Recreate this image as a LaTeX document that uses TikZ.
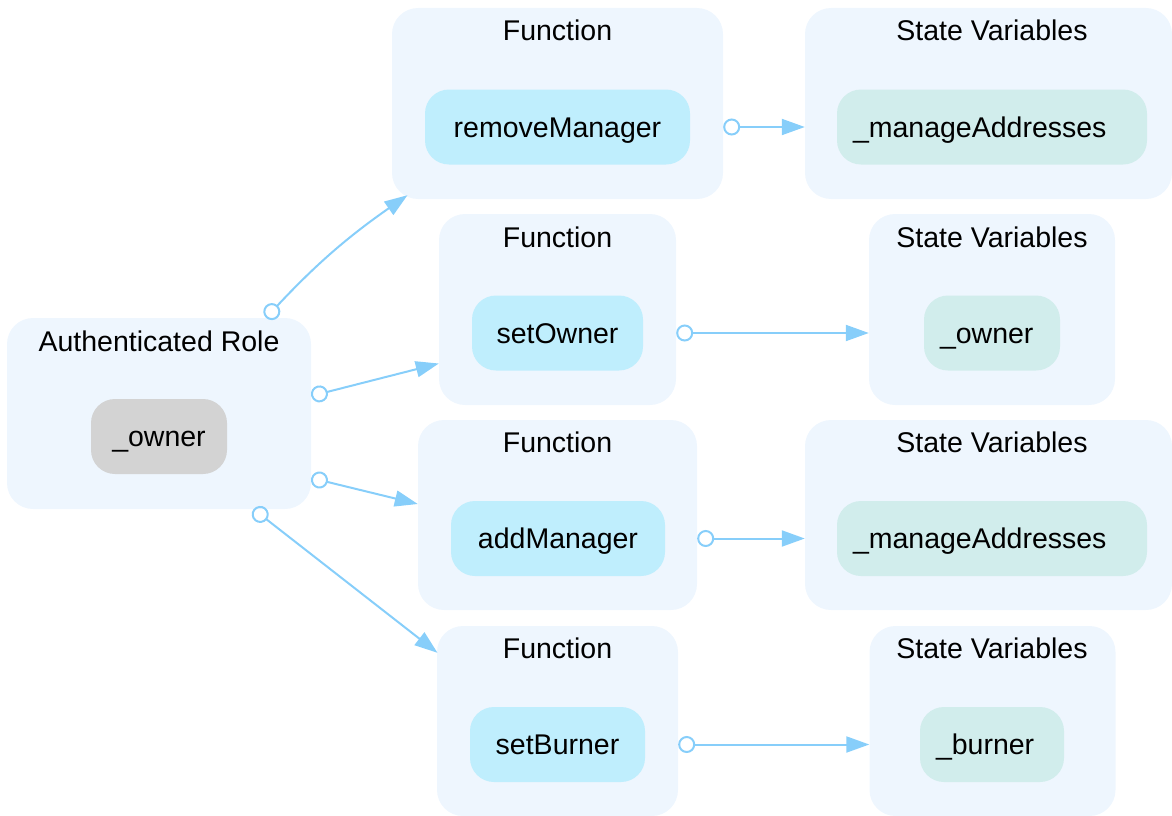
\documentclass[tikz,border=0pt]{standalone}
\usepackage{fontspec}
\setmainfont{Liberation Sans}
\usetikzlibrary{arrows.meta,positioning}

\definecolor{clusterbg}{HTML}{EEF6FE}
\definecolor{fnfill}{HTML}{BFEEFD}
\definecolor{svfill}{HTML}{D1EDEC}
\definecolor{rolefill}{HTML}{D3D3D3}
\definecolor{edgecol}{HTML}{87CEFA}

\begin{document}
\begin{tikzpicture}[x=1pt,y=-1pt,
  font=\fontsize{28.5}{32}\selectfont,
  cluster/.style={draw=none, fill=clusterbg, rounded corners=26pt,
    minimum height=191pt, inner sep=0pt},
  title/.style={anchor=base, inner sep=0pt},
  item/.style={draw=none, rounded corners=24pt, minimum height=75pt,
    inner sep=0pt, text height=20pt, text depth=0pt},
  fn/.style={item, fill=fnfill, minimum width=#1},
  sv/.style={item, fill=svfill, inner xsep=16pt, text width=#1-32pt, align=left},
  role/.style={item, fill=rolefill, minimum width=#1},
  link/.style={draw=edgecol, line width=2pt,
    {Circle[open, length=17pt, width=17pt, line width=2pt]}-{Triangle[length=23pt, width=16pt]}},
]
\useasboundingbox (0,0) rectangle (1172,816);

% Authenticated role
\node[cluster, minimum width=304pt] (auth) at (159,413.5) {};
\node[title] at (159,351) {Authenticated Role};
\node[role=136pt] (owner) at (159,436.5) {\_owner};

% removeManager
\node[cluster, minimum width=331pt] (f1) at (557.5,103.5) {};
\node[title] at (557.5,41) {Function};
\node[fn=265pt] (removeManager) at (557.5,127) {removeManager};
\node[cluster, minimum width=367pt] (s1) at (988.5,103.5) {};
\node[title] at (992,41) {State Variables};
\node[sv=310pt] (ma1) at (992,127) {\_manageAddresses};

% setOwner
\node[cluster, minimum width=237pt] (f2) at (557.5,309.5) {};
\node[title] at (557.5,247) {Function};
\node[fn=171pt] (setOwner) at (557.5,333) {setOwner};
\node[cluster, minimum width=246pt] (s2) at (992,309.5) {};
\node[title] at (992,247) {State Variables};
\node[sv=136pt] (ownerVar) at (992,333) {\_owner};

% addManager
\node[cluster, minimum width=279pt, minimum height=190pt] (f3) at (557.5,515) {};
\node[title] at (557.5,452.5) {Function};
\node[fn=214pt] (addManager) at (558,538.5) {addManager};
\node[cluster, minimum width=367pt, minimum height=190pt] (s3) at (988.5,515) {};
\node[title] at (992,452.5) {State Variables};
\node[sv=310pt] (ma3) at (992,538.5) {\_manageAddresses};

% setBurner
\node[cluster, minimum width=241pt, minimum height=190pt] (f4) at (557.5,721) {};
\node[title] at (557.5,658.5) {Function};
\node[fn=175pt] (setBurner) at (557.5,744.5) {setBurner};
\node[cluster, minimum width=246pt, minimum height=190pt] (s4) at (992.5,721) {};
\node[title] at (992,658.5) {State Variables};
\node[sv=144pt] (burnerVar) at (992,744.5) {\_burner};

% role to functions
\draw[link] ([xshift=107pt]auth.north) to[bend left=6] ([xshift=-150pt,yshift=4pt]f1.south);
\draw[link] ([yshift=17.5pt]auth.east) -- ([yshift=-54pt]f2.west);
\draw[link] ([yshift=-64.5pt]auth.east) -- ([yshift=11pt]f3.west);
\draw[link] ([xshift=94.5pt]auth.south) -- ([xshift=-120pt,yshift=-27pt]f4.north);

% functions to state variables
\draw[link] ([yshift=-23.5pt]f1.east) -- ([yshift=-23.5pt]s1.west);
\draw[link] ([yshift=-23.5pt]f2.east) -- ([yshift=-23.5pt]s2.west);
\draw[link] ([yshift=-23.5pt]f3.east) -- ([yshift=-23.5pt]s3.west);
\draw[link] ([yshift=-23.5pt]f4.east) -- ([yshift=-23.5pt]s4.west);
\end{tikzpicture}
\end{document}
